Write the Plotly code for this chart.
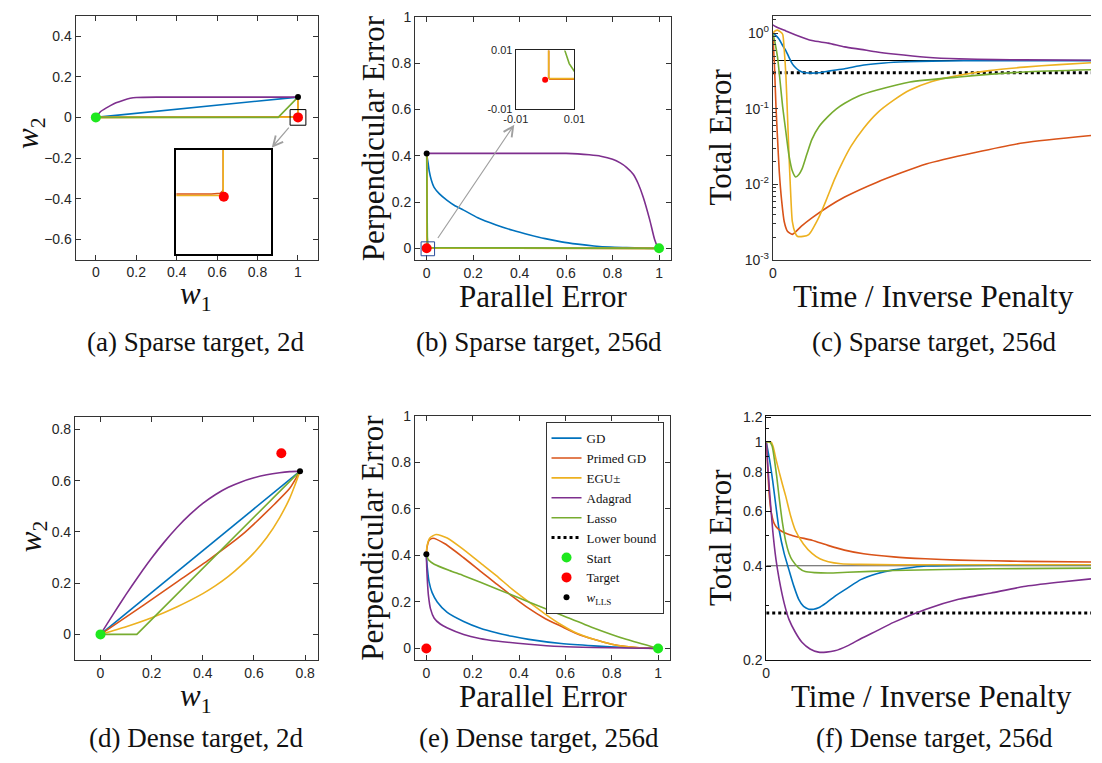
import plotly.graph_objects as go

W, H = 1102, 763

NAMES = ["GD", "Primed GD", "EGU±", "Adagrad", "Lasso"]
COLORS = ["#0072BD", "#D95319", "#EDB120", "#7E2F8E", "#77AC30"]
C_START = "#1EE81E"
C_TARGET = "#FF0000"
C_LLS = "#000000"

# ---------------- (a) Sparse target, 2d ----------------
a_gd_x = [0.0, 1.0]
a_gd_y = [0.0, 0.1]
a_pgd_x = [0.0, 0.5, 0.99, 0.997, 0.999, 0.9995, 0.9995]
a_pgd_y = [0.0, 0.0018, 0.0022, 0.0028, 0.0045, 0.006, 0.1]
a_egu_x = [0.0, 0.5, 0.9991, 0.9995, 0.9995]
a_egu_y = [0.0, 0.0008, 0.001, 0.0016, 0.1]
a_ada_x = [0.0, 0.024, 0.05, 0.072, 0.1, 0.137, 0.17, 0.201, 0.3, 1.0]
a_ada_y = [0.0, 0.029, 0.046, 0.058, 0.072, 0.085, 0.094, 0.098, 0.1, 0.1]
a_las_x = [0.0, 0.902, 1.0]
a_las_y = [0.0, 0.0, 0.1]
a_start = [0.0, 0.0]
a_target = [1.0, 0.0]
a_lls = [1.0, 0.1]
a_ticks_x = [0, 0.2, 0.4, 0.6, 0.8, 1]
a_ticks_y = [-0.6, -0.4, -0.2, 0, 0.2, 0.4]

# ---------------- (b) Sparse target, 256d ----------------
b_gd_x = [0.0, 0.002, 0.006, 0.011, 0.02, 0.032, 0.055, 0.088, 0.12, 0.159, 0.22, 0.299,
          0.37, 0.44, 0.51, 0.58, 0.65, 0.72, 0.79, 0.86, 0.93, 1.0]
b_gd_y = [0.41, 0.395, 0.37, 0.334, 0.295, 0.263, 0.235, 0.207, 0.185, 0.165, 0.132, 0.101,
          0.078, 0.059, 0.042, 0.028, 0.018, 0.01, 0.005, 0.003, 0.001, 0.0]
b_pgd_x = [1.0, 0.5, 0.01, 0.0016, 0.0012, 0.0012, 0.0]
b_pgd_y = [0.0, 0.0002, 0.0002, 0.0002, 0.0008, 0.41, 0.41]
b_egu_x = [1.0, 0.5, 0.01, 0.0015, 0.0012, 0.0012, 0.0]
b_egu_y = [0.0, 0.0004, 0.0004, 0.0004, 0.0009, 0.41, 0.41]
b_ada_x = [0.0, 0.3, 0.6, 0.65, 0.7, 0.749, 0.8, 0.833, 0.86, 0.889, 0.91, 0.932, 0.96, 0.981, 0.993, 1.0]
b_ada_y = [0.41, 0.41, 0.41, 0.408, 0.404, 0.398, 0.385, 0.369, 0.35, 0.32, 0.28, 0.221, 0.123, 0.038, 0.008, 0.0]
b_las_x = [1.0, 0.2, 0.05, 0.02, 0.013, 0.01, 0.0082, 0.0067, 0.005, 0.003, 0.0015, 0.0006, 0.0]
b_las_y = [0.0, 0.0, 0.0003, 0.001, 0.0018, 0.0028, 0.0055, 0.01, 0.02, 0.05, 0.12, 0.3, 0.41]
b_start = [1.0, 0.0]
b_target = [0.0, 0.0]
b_lls = [0.0, 0.41]
b_ticks_x = [0, 0.2, 0.4, 0.6, 0.8, 1]
b_ticks_y = [0, 0.2, 0.4, 0.6, 0.8, 1]
b_inset_ticks = [-0.01, 0.01]

# ---------------- (c) Sparse target, 256d: total error vs time ----------------
c_gd_t = [0, 1, 2, 3, 4.1, 5.1, 6.15, 7.2, 8.2, 9.2, 10.3, 12.3, 14.4, 18, 22.6, 28.7, 35, 42, 50, 60, 75, 100]
c_gd_v = [1.0, 0.93, 0.835, 0.7, 0.59, 0.48, 0.394, 0.35, 0.323, 0.308, 0.30, 0.297, 0.30, 0.318,
          0.34, 0.38, 0.405, 0.42, 0.428, 0.432, 0.434, 0.435]
c_pgd_t = [0, 0.5, 1.0, 1.5, 2.05, 2.8, 3.6, 4.6, 6.15, 9, 12.3, 17.4, 22.6, 32.8, 48.2, 63.6, 79, 100]
c_pgd_v = [1.0, 0.4, 0.107, 0.04, 0.0145, 0.006, 0.0032, 0.0024, 0.00218, 0.0028, 0.0036, 0.00506,
           0.0068, 0.0107, 0.0186, 0.0264, 0.0356, 0.0444]
c_egu_t = [0, 0.8, 1.5, 2.3, 3.1, 3.6, 4.1, 4.6, 5.1, 5.6, 6.15, 7.0, 7.7, 9.5, 11.3, 14.4, 17, 19.5,
           22, 24.6, 28.5, 32.8, 38, 43.1, 50, 58.5, 68, 79, 90, 100]
c_egu_v = [1.0, 1.08, 1.1, 1.05, 0.97, 0.6, 0.29, 0.085, 0.024, 0.008, 0.0032, 0.0023, 0.00206,
           0.00205, 0.00216, 0.0036, 0.0065, 0.0119, 0.02, 0.032, 0.055, 0.0878, 0.13, 0.177, 0.23,
           0.277, 0.32, 0.356, 0.385, 0.407]
c_ada_t = [0, 1, 4.1, 7.2, 12.3, 17.4, 22.6, 27.7, 32.8, 37.9, 48.2, 58.5, 70, 79, 100]
c_ada_v = [1.29, 1.22, 1.075, 0.95, 0.80, 0.74, 0.66, 0.612, 0.565, 0.532, 0.482, 0.458, 0.448, 0.444, 0.440]
c_las_t = [0, 0.7, 1.5, 2.3, 3.1, 4.1, 5.1, 6.15, 7.2, 8.2, 9.2, 10.7, 12.3, 14.5, 17.4, 20, 22.6,
           27, 32.8, 43.1, 58.5, 79, 100]
c_las_v = [1.0, 0.75, 0.48, 0.23, 0.107, 0.05, 0.024, 0.015, 0.0125, 0.0135, 0.016, 0.025, 0.0394,
           0.058, 0.0794, 0.1, 0.1186, 0.148, 0.177, 0.227, 0.264, 0.307, 0.329]
c_lls_level = 0.436
c_bound_level = 0.301
c_tickvals = [0.001, 0.01, 0.1, 1]
c_ticktext = ["10<sup>-3</sup>", "10<sup>-2</sup>", "10<sup>-1</sup>", "10<sup>0</sup>"]
c_minor = [m * 10.0 ** e for e in (-3, -2, -1) for m in range(2, 10)] + [1.5]

# ---------------- (d) Dense target, 2d ----------------
d_gd_x = [0.0, 0.78]
d_gd_y = [0.0, 0.637]
d_pgd_x = [0.0, 0.17, 0.298, 0.426, 0.554, 0.681, 0.74, 0.78]
d_pgd_y = [0.0, 0.115, 0.204, 0.293, 0.389, 0.509, 0.57, 0.637]
d_egu_x = [0.0, 0.1, 0.2, 0.3, 0.4, 0.45, 0.5, 0.55, 0.6, 0.65, 0.7, 0.74, 0.76, 0.78]
d_egu_y = [0.0, 0.03, 0.065, 0.108, 0.159, 0.19, 0.226, 0.269, 0.318, 0.378, 0.455, 0.532,
           0.582, 0.637]
d_ada_x = [0.0, 0.05, 0.1, 0.15, 0.2, 0.25, 0.3, 0.35, 0.4, 0.45, 0.5, 0.55, 0.6, 0.65, 0.7, 0.74, 0.78]
d_ada_y = [0.0, 0.079, 0.156, 0.229, 0.298, 0.361, 0.418, 0.468, 0.511, 0.546, 0.574, 0.595,
           0.611, 0.623, 0.631, 0.635, 0.637]
d_las_x = [0.0, 0.142, 0.78]
d_las_y = [0.0, 0.0, 0.637]
d_start = [0.0, 0.0]
d_target = [0.707, 0.707]
d_lls = [0.78, 0.637]
d_ticks = [0, 0.2, 0.4, 0.6, 0.8]

# ---------------- (e) Dense target, 256d ----------------
e_gd_x = [0.0, 0.002, 0.006, 0.012, 0.025, 0.047, 0.09, 0.161, 0.23, 0.302, 0.37, 0.442, 0.582, 0.722, 0.862, 1.0]
e_gd_y = [0.405, 0.37, 0.33, 0.285, 0.24, 0.2, 0.155, 0.116, 0.088, 0.067, 0.052, 0.039, 0.021, 0.011, 0.004, 0.0]
e_pgd_x = [0.0, 0.003, 0.012, 0.028, 0.08, 0.161, 0.23, 0.302, 0.37, 0.442, 0.51, 0.582, 0.65, 0.722, 0.8, 0.862, 0.93, 1.0]
e_pgd_y = [0.405, 0.435, 0.465, 0.474, 0.45, 0.39, 0.335, 0.278, 0.225, 0.172, 0.13, 0.095, 0.063, 0.039, 0.018, 0.008, 0.002, 0.0]
e_egu_x = [0.0, 0.003, 0.015, 0.042, 0.09, 0.161, 0.23, 0.302, 0.37, 0.442, 0.51, 0.582, 0.65, 0.722, 0.8, 0.862, 0.93, 1.0]
e_egu_y = [0.405, 0.44, 0.475, 0.49, 0.475, 0.425, 0.37, 0.313, 0.255, 0.2, 0.15, 0.102, 0.065, 0.039, 0.018, 0.008, 0.002, 0.0]
e_ada_x = [0.0, 0.002, 0.005, 0.009, 0.018, 0.034, 0.06, 0.091, 0.161, 0.23, 0.302, 0.442, 0.582, 0.722, 0.862, 1.0]
e_ada_y = [0.405, 0.34, 0.28, 0.228, 0.17, 0.13, 0.105, 0.088, 0.06, 0.043, 0.032, 0.018, 0.008, 0.004, 0.002, 0.0]
e_las_x = [0.0, 0.01, 0.034, 0.1, 0.161, 0.302, 0.442, 0.582, 0.722, 0.862, 1.0]
e_las_y = [0.405, 0.38, 0.362, 0.335, 0.313, 0.257, 0.2, 0.144, 0.088, 0.039, 0.0]
e_start = [1.0, 0.0]
e_target = [0.0, 0.0]
e_lls = [0.0, 0.405]

# ---------------- (f) Dense target, 256d: total error vs time ----------------
f_gd_t = [0, 1, 2.0, 3, 4.0, 5.5, 7.0, 8.5, 10.0, 11.5, 13.1, 14.6, 16.1, 18.5, 21.1, 25, 29.1, 34, 39.2, 45, 49.2, 60, 80, 100]
f_gd_v = [1.0, 0.88, 0.748, 0.62, 0.52, 0.44, 0.389, 0.345, 0.313, 0.297, 0.291, 0.291, 0.294, 0.305,
          0.32, 0.34, 0.362, 0.378, 0.389, 0.396, 0.4, 0.402, 0.403, 0.403]
f_pgd_t = [0, 0.5, 1.0, 1.6, 2.5, 3.5, 5.0, 7, 10, 14.1, 19, 24.1, 30, 39.2, 49, 59.2, 70, 80, 100]
f_pgd_v = [1.0, 0.8, 0.662, 0.59, 0.546, 0.528, 0.515, 0.505, 0.495, 0.484, 0.466, 0.45, 0.438,
           0.428, 0.422, 0.418, 0.416, 0.414, 0.412]
f_egu_t = [0, 1, 1.6, 2.2, 3.0, 4.0, 5.0, 6.0, 7.5, 9.0, 11.5, 14.1, 16.5, 19.1, 23, 29, 40, 60, 100]
f_egu_v = [1.0, 1.0, 0.995, 0.96, 0.88, 0.8, 0.73, 0.67, 0.58, 0.52, 0.47, 0.439, 0.422, 0.413,
           0.407, 0.405, 0.404, 0.404, 0.404]
f_ada_t = [0, 1, 2.0, 3, 4.0, 5.5, 7.0, 9, 11.0, 13.5, 16.1, 18.5, 21.1, 25, 29.1, 34, 39.2, 49.2, 59.2, 69.3, 79.3, 90, 100]
f_ada_v = [1.0, 0.7, 0.52, 0.42, 0.362, 0.305, 0.27, 0.245, 0.228, 0.217, 0.212, 0.212, 0.214,
           0.222, 0.234, 0.248, 0.264, 0.291, 0.313, 0.328, 0.344, 0.355, 0.364]
f_las_t = [0, 1.0, 1.8, 2.5, 3.2, 4.0, 5.0, 6.0, 7.0, 8.0, 10, 12.0, 15, 19.1, 25, 39.2, 55, 69.3, 100]
f_las_v = [1.0, 1.0, 0.97, 0.88, 0.78, 0.66, 0.55, 0.48, 0.44, 0.418, 0.395, 0.384, 0.381, 0.38,
           0.382, 0.387, 0.39, 0.392, 0.394]
f_lls_level = 0.401
f_bound_level = 0.283
f_tickvals = [0.2, 0.4, 0.6, 0.8, 1, 1.2]
f_ticktext = ["0.2", "0.4", "0.6", "0.8", "1", "1.2"]
f_minor = [0.3, 0.5, 0.7, 0.9, 1.1]
t_range = [0, 100]

# ---------------- helpers ----------------
AXC = "#333333"
TICKFONT = dict(family="Liberation Sans, Arial, sans-serif", size=14, color="#262626")
SERIF = "Liberation Serif, Times New Roman, serif"


def dom(px0, px1, py0, py1):
    return [px0 / W, px1 / W], [1 - py1 / H, 1 - py0 / H]


fig = go.Figure()


def add_line(xs, ys, ax, color, width=1.6, spline=False, name=None, legend=False, dash=None, rank=None):
    fig.add_trace(go.Scatter(
        x=xs, y=ys, xaxis="x" + ax, yaxis="y" + ax, mode="lines",
        line=dict(color=color, width=width, shape="spline" if spline else "linear",
                  smoothing=0.6, dash=dash),
        name=name, showlegend=legend, hoverinfo="skip",
        legendrank=rank if rank else 1000))


def add_pt(pt, ax, color, size, name=None, legend=False, rank=None):
    fig.add_trace(go.Scatter(
        x=[pt[0]], y=[pt[1]], xaxis="x" + ax, yaxis="y" + ax, mode="markers",
        marker=dict(color=color, size=size, line=dict(width=0)),
        name=name, showlegend=legend, hoverinfo="skip",
        legendrank=rank if rank else 1000))


def axis(domain, rng, anchor, tickvals=None, ticktext=None, typ="linear", mirror="ticks",
         ticks="inside", ticklen=5, showticklabels=True, lw=1, lc=AXC, minor=None, font=TICKFONT):
    d = dict(domain=domain, range=rng, anchor=anchor, type=typ, showline=True, linecolor=lc,
             linewidth=lw, mirror=mirror, ticks=ticks, ticklen=ticklen, tickwidth=1,
             tickcolor=lc, showgrid=False, zeroline=False, fixedrange=True,
             showticklabels=showticklabels, tickfont=font)
    if tickvals is not None:
        d["tickmode"] = "array"
        d["tickvals"] = tickvals
        if ticktext is not None:
            d["ticktext"] = ticktext
    if minor is not None:
        d["minor"] = minor
    return d


# ---------------- traces ----------------
# (a)
add_line(a_gd_x, a_gd_y, "", COLORS[0])
add_line(a_pgd_x, a_pgd_y, "", COLORS[1])
add_line(a_egu_x, a_egu_y, "", COLORS[2])
add_line(a_ada_x, a_ada_y, "", COLORS[3], spline=True)
add_line(a_las_x, a_las_y, "", COLORS[4])
add_pt(a_start, "", C_START, 10)
add_pt(a_target, "", C_TARGET, 10)
add_pt(a_lls, "", C_LLS, 6)
# (a) inset
add_line(a_pgd_x, a_pgd_y, "7", COLORS[1])
add_line(a_egu_x, a_egu_y, "7", COLORS[2])
add_pt(a_target, "7", C_TARGET, 10)

# (b)
add_line(b_gd_x, b_gd_y, "2", COLORS[0], spline=True)
add_line(b_pgd_x, b_pgd_y, "2", COLORS[1])
add_line(b_egu_x, b_egu_y, "2", COLORS[2])
add_line(b_ada_x, b_ada_y, "2", COLORS[3], spline=True)
add_line(b_las_x, b_las_y, "2", COLORS[4])
add_pt(b_start, "2", C_START, 10)
add_pt(b_target, "2", C_TARGET, 10)
add_pt(b_lls, "2", C_LLS, 6)
# (b) inset
add_line(b_las_x, b_las_y, "8", COLORS[4])
add_line(b_pgd_x, b_pgd_y, "8", COLORS[1])
add_line(b_egu_x, b_egu_y, "8", COLORS[2])
add_pt(b_target, "8", C_TARGET, 6)

# (c)
add_line(t_range, [c_lls_level, c_lls_level], "3", "#000000", width=1.2)
add_line(t_range, [c_bound_level, c_bound_level], "3", "#000000", width=3, dash="dot",
         name="Lower bound", legend=True, rank=6)
add_line(c_gd_t, c_gd_v, "3", COLORS[0], spline=True)
add_line(c_pgd_t, c_pgd_v, "3", COLORS[1], spline=True)
add_line(c_egu_t, c_egu_v, "3", COLORS[2], spline=True)
add_line(c_ada_t, c_ada_v, "3", COLORS[3], spline=True)
add_line(c_las_t, c_las_v, "3", COLORS[4], spline=True)

# (d)
add_line(d_gd_x, d_gd_y, "4", COLORS[0])
add_line(d_pgd_x, d_pgd_y, "4", COLORS[1], spline=True)
add_line(d_egu_x, d_egu_y, "4", COLORS[2], spline=True)
add_line(d_ada_x, d_ada_y, "4", COLORS[3], spline=True)
add_line(d_las_x, d_las_y, "4", COLORS[4])
add_pt(d_start, "4", C_START, 10)
add_pt(d_target, "4", C_TARGET, 10)
add_pt(d_lls, "4", C_LLS, 6)

# (e) (carries the legend)
add_line(e_gd_x, e_gd_y, "5", COLORS[0], spline=True, name=NAMES[0], legend=True, rank=1)
add_line(e_pgd_x, e_pgd_y, "5", COLORS[1], spline=True, name=NAMES[1], legend=True, rank=2)
add_line(e_egu_x, e_egu_y, "5", COLORS[2], spline=True, name=NAMES[2], legend=True, rank=3)
add_line(e_ada_x, e_ada_y, "5", COLORS[3], spline=True, name=NAMES[3], legend=True, rank=4)
add_line(e_las_x, e_las_y, "5", COLORS[4], spline=True, name=NAMES[4], legend=True, rank=5)
add_pt(e_start, "5", C_START, 10, name="Start", legend=True, rank=7)
add_pt(e_target, "5", C_TARGET, 10, name="Target", legend=True, rank=8)
add_pt(e_lls, "5", C_LLS, 6, name="<i>w</i><sub>LLS</sub>", legend=True, rank=9)

# (f)
add_line(t_range, [f_lls_level, f_lls_level], "6", "#555555", width=1.2)
add_line(t_range, [f_bound_level, f_bound_level], "6", "#000000", width=3, dash="dot")
add_line(f_gd_t, f_gd_v, "6", COLORS[0], spline=True)
add_line(f_pgd_t, f_pgd_v, "6", COLORS[1], spline=True)
add_line(f_egu_t, f_egu_v, "6", COLORS[2], spline=True)
add_line(f_ada_t, f_ada_v, "6", COLORS[3], spline=True)
add_line(f_las_t, f_las_v, "6", COLORS[4], spline=True)

# ---------------- axes ----------------
xa, ya = dom(64, 312, 8, 257)
xb, yb = dom(411, 672.3, 9, 257.3)
xc, yc = dom(776.7, 1102, 8.3, 257.3)
xd, yd = dom(63.3, 311.7, 417.3, 666)
xe, ye = dom(410.7, 671.3, 416.7, 666)
xf, yf = dom(770, 1102, 416.7, 666)
xai, yai = dom(167, 264, 145, 251)
xbi, ybi = dom(514, 574, 43.3, 103.3)

small_font = dict(family="Liberation Sans, Arial, sans-serif", size=11, color="#262626")

layout_axes = dict(
    xaxis=axis(xa, [-0.1, 1.1], "y", a_ticks_x),
    yaxis=axis(ya, [-0.7, 0.5], "x", a_ticks_y),
    xaxis2=axis(xb, [-0.05, 1.05], "y2", b_ticks_x),
    yaxis2=axis(yb, [-0.05, 1.0], "x2", b_ticks_y),
    xaxis3=axis(xc, t_range, "y3", [0], ["0"], mirror=True, ticks=""),
    yaxis3=axis(yc, [-3, 0.227], "x3", c_tickvals, c_ticktext, typ="log", mirror=False,
                minor=dict(tickmode="array", tickvals=c_minor, ticks="inside", ticklen=3,
                           tickcolor=AXC, showgrid=False)),
    xaxis4=axis(xd, [-0.1, 0.85], "y4", d_ticks),
    yaxis4=axis(yd, [-0.1, 0.85], "x4", d_ticks),
    xaxis5=axis(xe, [-0.05, 1.05], "y5", b_ticks_x),
    yaxis5=axis(ye, [-0.05, 1.0], "x5", b_ticks_y),
    xaxis6=axis(xf, t_range, "y6", [0], ["0"], mirror=True, ticks="", lc="#111111"),
    yaxis6=axis(yf, [-0.699, 0.083], "x6", f_tickvals, f_ticktext, typ="log", mirror=False,
                lc="#111111",
                minor=dict(tickmode="array", tickvals=f_minor, ticks="inside", ticklen=3,
                           tickcolor="#111111", showgrid=False)),
    xaxis7=axis(xai, [0.961, 1.039], "y7", [], mirror=True, ticks="", showticklabels=False,
                lw=1.5, lc="#000000"),
    yaxis7=axis(yai, [-0.045, 0.037], "x7", [], mirror=True, ticks="", showticklabels=False,
                lw=1.5, lc="#000000"),
    xaxis8=axis(xbi, [-0.01, 0.01], "y8", b_inset_ticks, ["-0.01", "0.01"], mirror=True,
                ticks="", lw=1.3, lc="#222222", font=small_font),
    yaxis8=axis(ybi, [-0.01, 0.01], "x8", b_inset_ticks, ["-0.01", "0.01"], mirror=True,
                ticks="", lw=1.3, lc="#222222", font=small_font),
)

# ---------------- annotations (titles, captions, arrows) ----------------
ann = []


def text(s, px, py, size, angle=0):
    ann.append(dict(text=s, x=px / W, y=1 - py / H, xref="paper", yref="paper",
                    showarrow=False, textangle=angle, xanchor="center", yanchor="middle",
                    font=dict(family=SERIF, size=size, color="#111111")))


TITLE = 31
CAP = 27
text("<i>w</i><sub>1</sub>", 187, 294, 31)
text("<i>w</i><sub>2</sub>", 18, 128, 31, -90)
text("Parallel Error", 542, 295, TITLE)
text("Perpendicular Error", 368, 133, TITLE, -90)
text("Time / Inverse Penalty", 941, 295, TITLE)
text("Total Error", 723, 132, TITLE, -90)
text("<i>w</i><sub>1</sub>", 187, 705, 31)
text("<i>w</i><sub>2</sub>", 20, 540, 31, -90)
text("Parallel Error", 542, 703, TITLE)
text("Perpendicular Error", 368, 541, TITLE, -90)
text("Time / Inverse Penalty", 939, 703, TITLE)
text("Total Error", 723, 541, TITLE, -90)

text("(a) Sparse target, 2d", 187, 341, CAP)
text("(b) Sparse target, 256d", 538, 341, CAP)
text("(c) Sparse target, 256d", 942, 341, CAP)
text("(d) Dense target, 2d", 187, 746, CAP)
text("(e) Dense target, 256d", 538, 746, CAP)
text("(f) Dense target, 256d", 942, 746, CAP)

ann.append(dict(x=0.87, y=-0.149, xref="x", yref="y", ax=0.961, ay=-0.043, axref="x", ayref="y",
                text="", showarrow=True, arrowhead=5, arrowsize=1.6, arrowwidth=1.2,
                arrowcolor="#A0A0A0"))
ann.append(dict(x=0.377, y=0.534, xref="x2", yref="y2", ax=0.044, ay=0.038, axref="x2", ayref="y2",
                text="", showarrow=True, arrowhead=5, arrowsize=1.6, arrowwidth=1.2,
                arrowcolor="#A0A0A0"))

shapes = [
    dict(type="rect", xref="x", yref="y", x0=0.961, x1=1.039, y0=-0.0385, y1=0.0385,
         line=dict(color="#000000", width=1)),
    dict(type="rect", xref="x2", yref="y2", x0=-0.024, x1=0.034, y0=-0.032, y1=0.028,
         line=dict(color="#2B4C9B", width=1)),
]

fig.update_layout(
    width=W, height=H, margin=dict(l=0, r=0, t=0, b=0),
    paper_bgcolor="white", plot_bgcolor="white",
    annotations=ann, shapes=shapes,
    legend=dict(x=665 / W, y=1 - 423 / H, xanchor="right", yanchor="top",
                bgcolor="white", bordercolor="#333333", borderwidth=1,
                font=dict(family=SERIF, size=13, color="#111111"),
                tracegroupgap=0, itemwidth=30),
    **layout_axes,
)

fig.write_html("out.html")
